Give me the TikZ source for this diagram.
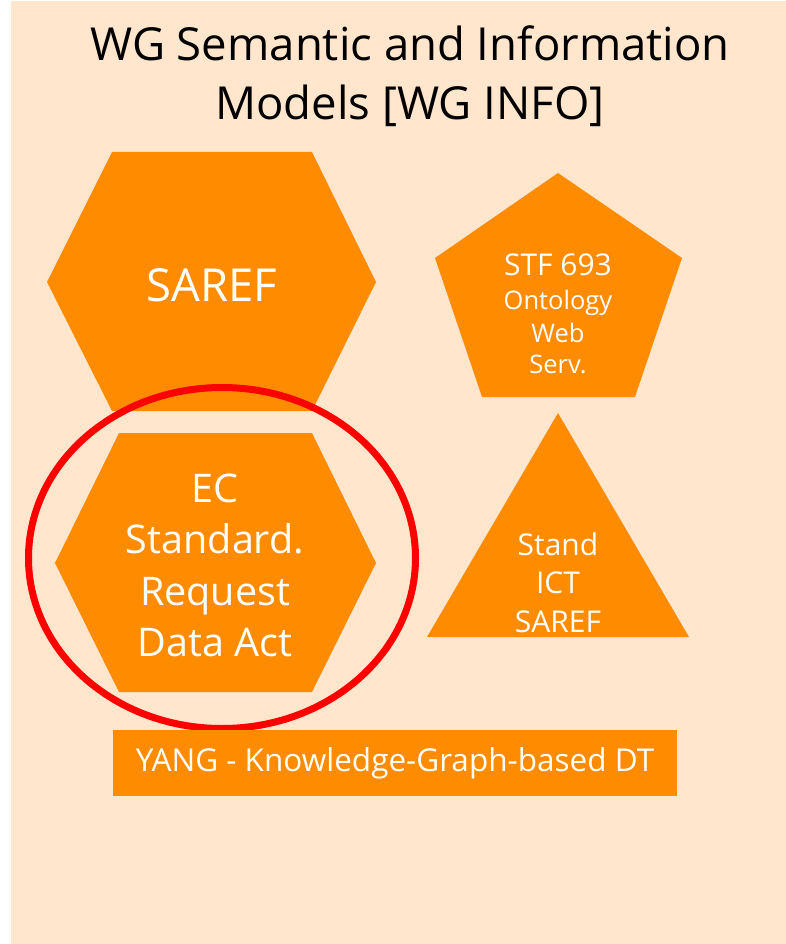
\documentclass[tikz,border=0pt]{standalone}
\usepackage{fontspec}
\setmainfont{Open Sans}
\definecolor{bgpeach}{HTML}{FFE6CC}
\definecolor{shapeorange}{HTML}{FF8C00}
\definecolor{ringred}{HTML}{FF0000}
\tikzset{
  shapefill/.style={fill=shapeorange},
  wtext/.style={text=white, inner sep=0pt, anchor=base},
  ttext/.style={text=black, inner sep=0pt, anchor=base, font=\fontsize{45.5}{56}\selectfont},
}
\begin{document}
\begin{tikzpicture}[x=1pt,y=-1pt]
\useasboundingbox (0,0) rectangle (786,944);
\fill[bgpeach] (11,1) rectangle (786,944);
% title
\node[ttext] (title1) at (410,61) {WG Semantic and Information};
\node[ttext] (title2) at (410,120) {Models [WG INFO]};
% SAREF hexagon
\fill[shapefill] (112,152) -- (312,152) -- (376,282) -- (312,411) -- (112,411) -- (47,282) -- cycle;
\node[wtext, font=\fontsize{45.5}{56}\selectfont] (saref) at (212,301) {SAREF};
% pentagon
\fill[shapefill] (558,173) -- (682,258) -- (635,397) -- (482,397) -- (435,258) -- cycle;
\node[wtext, font=\fontsize{30}{36}\selectfont] (stf1) at (558,275) {STF 693};
\node[wtext, font=\fontsize{25.5}{30}\selectfont] (stf2) at (558,309) {Ontology};
\node[wtext, font=\fontsize{25.5}{30}\selectfont] (stf3) at (558,342) {Web};
\node[wtext, font=\fontsize{25.5}{30}\selectfont] (stf4) at (558,373) {Serv.};
% EC hexagon
\fill[shapefill] (119,433) -- (312,433) -- (376,563) -- (312,692) -- (119,692) -- (55,563) -- cycle;
\node[wtext, font=\fontsize{39.5}{48}\selectfont] (ec1) at (215,502) {EC};
\node[wtext, font=\fontsize{39.5}{48}\selectfont] (ec2) at (215,553) {Standard.};
\node[wtext, font=\fontsize{39.5}{48}\selectfont] (ec3) at (215,605) {Request};
\node[wtext, font=\fontsize{39.5}{48}\selectfont] (ec4) at (215,656) {Data Act};
% triangle
\fill[shapefill] (558,413) -- (689,637) -- (427,637) -- cycle;
\node[wtext, font=\fontsize{30}{36}\selectfont] (tri1) at (558,555) {Stand};
\node[wtext, font=\fontsize{30}{36}\selectfont] (tri2) at (558,593) {ICT};
\node[wtext, font=\fontsize{30}{36}\selectfont] (tri3) at (558,632) {SAREF};
% red ring
\draw[ringred, line width=7pt] (222,558) ellipse [x radius=193.5, y radius=170.5];
% YANG bar
\fill[shapefill] (113,730) rectangle (677,796);
\node[wtext, font=\fontsize{31.5}{38}\selectfont] (yang) at (395,771) {YANG - Knowledge-Graph-based DT};
\end{tikzpicture}
\end{document}
